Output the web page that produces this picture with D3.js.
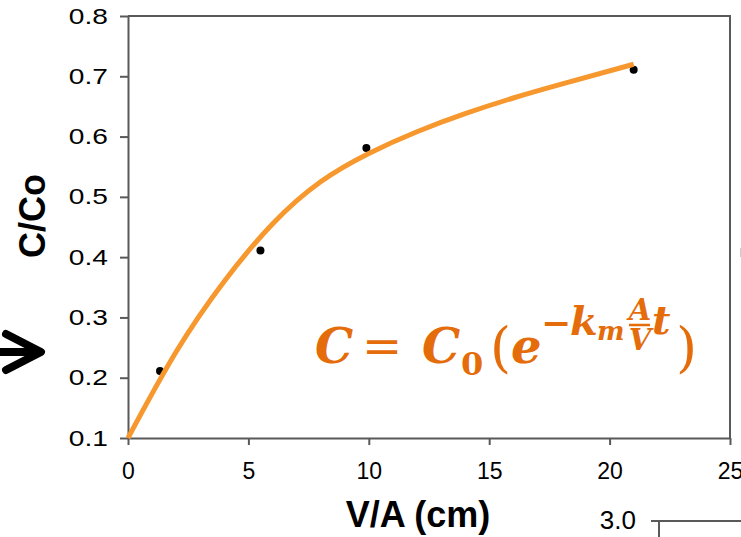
<!DOCTYPE html>
<html>
<head>
<meta charset="utf-8">
<script src="https://cdn.jsdelivr.net/npm/d3@7"></script>
<style>
  html, body { margin: 0; padding: 0; background: #fff; }
  svg { display: block; }
</style>
</head>
<body>
<svg id="chart"></svg>
<script>
// measured points (V/A, C/Co)
const pointX = [1.33, 5.5, 9.9, 21.0];
const pointY = [0.211, 0.411, 0.581, 0.711];

// fitted curve
const curveX = [0, 2, 4, 6, 8, 10, 12, 14, 16, 18, 21];
const curveY = [0.10, 0.243, 0.36, 0.455, 0.525, 0.572, 0.608, 0.638, 0.664, 0.687, 0.72];

const xTicks = [0, 5, 10, 15, 20, 25];
const yTicks = [0.1, 0.2, 0.3, 0.4, 0.5, 0.6, 0.7, 0.8];

const width = 741;
const height = 537;
const margin = { top: 16, right: 11, bottom: 99, left: 128 };
const innerWidth = width - margin.left - margin.right;
const innerHeight = height - margin.top - margin.bottom;
const axisColor = '#595959';

const svg = d3.select('#chart')
  .attr('width', width)
  .attr('height', height);

const chart = svg.append('g')
  .attr('transform', `translate(${margin.left},${margin.top})`);

const xScale = d3.scaleLinear().domain([0, 25]).range([0, innerWidth]);
const yScale = d3.scaleLinear().domain([0.1, 0.8]).range([innerHeight, 0]);

// frame: top and right edges
chart.append('path')
  .attr('d', `M0,0H${innerWidth}V${innerHeight}`)
  .attr('fill', 'none')
  .attr('stroke', axisColor)
  .attr('stroke-width', 2);

const xAxis = chart.append('g')
  .attr('transform', `translate(0,${innerHeight})`)
  .call(d3.axisBottom(xScale).tickValues(xTicks).tickSize(7).tickSizeOuter(0).tickPadding(18));
xAxis.attr('font-size', 23).attr('font-family', 'Liberation Sans, Arial, sans-serif');
xAxis.selectAll('text').attr('fill', '#000');

const yAxis = chart.append('g')
  .call(d3.axisLeft(yScale).tickValues(yTicks).tickSize(8).tickSizeOuter(0).tickFormat(d3.format('.1f')));
yAxis.attr('font-size', 22).attr('font-family', 'Liberation Sans, Arial, sans-serif');
yAxis.selectAll('text')
  .attr('x', 0)
  .attr('transform', 'translate(-20,0) scale(1.28,1)')
  .attr('fill', '#000');

[xAxis, yAxis].forEach(ax => {
  ax.selectAll('path, line').attr('stroke', axisColor).attr('stroke-width', 2);
});

// data points
chart.selectAll('circle.pt')
  .data(pointX.map((x, i) => ({ x, y: pointY[i] })))
  .enter()
  .append('circle')
  .attr('class', 'pt')
  .attr('cx', d => xScale(d.x))
  .attr('cy', d => yScale(d.y))
  .attr('r', 4)
  .attr('fill', '#000');

// fitted curve
chart.append('path')
  .datum(curveX.map((x, i) => ({ x, y: curveY[i] })))
  .attr('fill', 'none')
  .attr('stroke', '#F7982F')
  .attr('stroke-width', 5)
  .attr('d', d3.line()
    .x(d => xScale(d.x))
    .y(d => yScale(d.y))
    .curve(d3.curveNatural));

// axis titles
svg.append('text')
  .attr('x', 418)
  .attr('y', 527)
  .attr('text-anchor', 'middle')
  .attr('font-family', 'Liberation Sans, Arial, sans-serif')
  .attr('font-weight', 'bold')
  .attr('font-size', 36)
  .text('V/A (cm)');

svg.append('text')
  .attr('transform', 'translate(45,216) rotate(-90)')
  .attr('text-anchor', 'middle')
  .attr('font-family', 'Liberation Sans, Arial, sans-serif')
  .attr('font-weight', 'bold')
  .attr('font-size', 36)
  .text('C/Co');

// equation
const eqColor = '#E46C0A';
const eq = svg.append('g')
  .attr('fill', eqColor)
  .attr('font-family', 'DejaVu Serif, serif')
  .attr('font-weight', 'bold');
const eqParts = [
  { t: 'C', x: 315, y: 363, s: 48, i: true },
  { t: '=', x: 362, y: 363, s: 48, i: false, w: 'normal' },
  { t: 'C', x: 422, y: 363, s: 48, i: true },
  { t: '0', x: 461, y: 375, s: 32, i: false },
  { t: '(', x: 490, y: 366, s: 54, i: false, w: 'normal' },
  { t: 'e', x: 511, y: 363, s: 48, i: true },
  { t: '−', x: 541, y: 335, s: 36, i: false },
  { t: 'k', x: 570, y: 335, s: 40, i: true },
  { t: 'm', x: 597, y: 340, s: 26, i: true },
  { t: 't', x: 652, y: 334, s: 40, i: true },
  { t: ')', x: 676, y: 366, s: 54, i: false, w: 'normal' }
];
eqParts.forEach(p => {
  eq.append('text')
    .attr('x', p.x)
    .attr('y', p.y)
    .attr('font-size', p.s)
    .attr('font-style', p.i ? 'italic' : 'normal')
    .attr('font-weight', p.w || 'bold')
    .text(p.t);
});
eq.append('text')
  .attr('x', 640).attr('y', 320)
  .attr('text-anchor', 'middle')
  .attr('font-size', 29).attr('font-style', 'italic')
  .text('A');
eq.append('line')
  .attr('x1', 629).attr('x2', 650)
  .attr('y1', 325).attr('y2', 325)
  .attr('stroke', eqColor).attr('stroke-width', 2.5);
eq.append('text')
  .attr('x', 640).attr('y', 350)
  .attr('text-anchor', 'middle')
  .attr('font-size', 29).attr('font-style', 'italic')
  .text('V');

// arrow at left edge
svg.append('path')
  .attr('d', 'M0,352H38M6,334L41,352L6,370')
  .attr('fill', 'none')
  .attr('stroke', '#000')
  .attr('stroke-width', 8)
  .attr('stroke-linecap', 'round')
  .attr('stroke-linejoin', 'round');

// piece of the neighbouring chart in the corner
svg.append('text')
  .attr('x', 636)
  .attr('y', 529)
  .attr('text-anchor', 'end')
  .attr('font-family', 'Liberation Sans, Arial, sans-serif')
  .attr('font-size', 26)
  .text('3.0');
svg.append('path')
  .attr('d', 'M651,521H741M659,521V537')
  .attr('fill', 'none')
  .attr('stroke', axisColor)
  .attr('stroke-width', 2);
svg.append('line')
  .attr('x1', 740.5).attr('x2', 740.5)
  .attr('y1', 248).attr('y2', 257)
  .attr('stroke', '#ccc')
  .attr('stroke-width', 1);
</script>
</body>
</html>
